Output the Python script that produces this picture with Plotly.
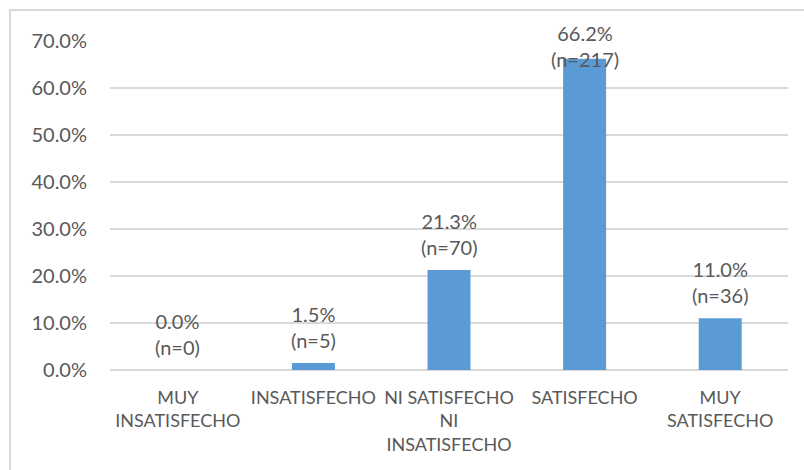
import plotly.graph_objects as go

# Satisfaction survey results
categories = ["MUY INSATISFECHO", "INSATISFECHO", "NI SATISFECHO NI INSATISFECHO",
              "SATISFECHO", "MUY SATISFECHO"]
tick_labels = ["MUY<br>INSATISFECHO", "INSATISFECHO", "NI SATISFECHO<br>NI<br>INSATISFECHO",
               "SATISFECHO", "MUY<br>SATISFECHO"]
percentages = [0.0, 1.5, 21.3, 66.2, 11.0]
counts = [0, 5, 70, 217, 36]
y_ticks = [0, 10, 20, 30, 40, 50, 60, 70]

FONT = "Lato, 'Open Sans', sans-serif"
TEXT_COLOR = "#595959"
GRID_COLOR = "#d9d9d9"
BAR_COLOR = "#5b9bd5"
Y_MAX = 70

fig = go.Figure(
    go.Bar(
        x=categories,
        y=percentages,
        marker=dict(color=BAR_COLOR, line=dict(width=0)),
        hoverinfo="skip",
    )
)

# Value labels above each bar; a label that would leave the chart is held at the top
for cat, pct, n in zip(categories, percentages, counts):
    text = f"{pct:.1f}%<br>(n={n})"
    if pct > Y_MAX - 12:
        fig.add_annotation(x=cat, y=1, xref="x", yref="paper", yanchor="top",
                           yshift=22, text=text, showarrow=False,
                           font=dict(family=FONT, size=20, color=TEXT_COLOR))
    else:
        fig.add_annotation(x=cat, y=pct, xref="x", yref="y", yanchor="bottom",
                           yshift=9, text=text, showarrow=False,
                           font=dict(family=FONT, size=20, color=TEXT_COLOR))

# Light chart-area frame
fig.add_shape(type="rect", xref="paper", yref="paper",
              x0=-0.1475, x1=1.2, y0=-0.6, y1=1.094,
              line=dict(color=GRID_COLOR, width=2), fillcolor="rgba(0,0,0,0)",
              layer="below")

fig.update_layout(
    width=804, height=470,
    margin=dict(l=110, r=16, t=41, b=100),
    paper_bgcolor="white", plot_bgcolor="white",
    bargap=0.683,
    showlegend=False,
    font=dict(family=FONT, size=18, color=TEXT_COLOR),
    xaxis=dict(
        tickvals=categories, ticktext=tick_labels,
        tickangle=0, automargin=False,
        showgrid=False, showline=False, ticks="",
        ticklabelstandoff=15,
        tickfont=dict(family=FONT, size=18, color=TEXT_COLOR),
    ),
    yaxis=dict(
        range=[0, Y_MAX], tickvals=y_ticks, automargin=False,
        ticktext=[f"{v:.1f}%" for v in y_ticks],
        showgrid=True, gridcolor=GRID_COLOR, gridwidth=1.5,
        zeroline=True, zerolinecolor=GRID_COLOR, zerolinewidth=1.5,
        showline=False, ticks="",
        ticklabelstandoff=22,
        tickfont=dict(family=FONT, size=20, color=TEXT_COLOR),
    ),
)

fig.write_html("out.html")
